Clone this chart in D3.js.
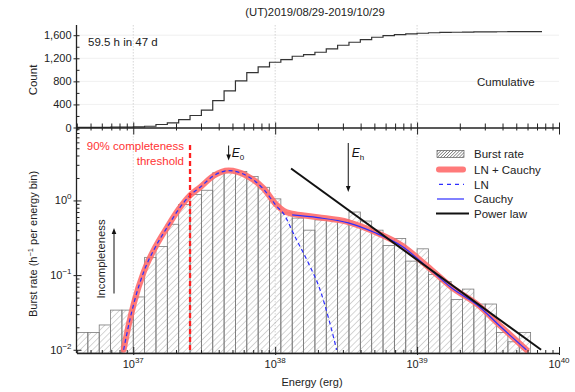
<!DOCTYPE html>
<html>
<head>
<meta charset="utf-8">
<script src="https://cdn.jsdelivr.net/npm/d3@7"></script>
<style>
  body { margin: 0; background: #fff; }
  svg { display: block; }
</style>
</head>
<body>
<svg id="chart" width="575" height="392"></svg>
<script>
// ---------- data ----------
const title = "(UT)2019/08/29-2019/10/29";
const exposureNote = "59.5 h in 47 d";

// histogram bin edges, log10(E / erg)
const binEdgesLogE = [36.60, 36.68, 36.76, 36.84, 36.92, 37.00, 37.08, 37.16, 37.24, 37.32,
  37.40, 37.48, 37.56, 37.64, 37.72, 37.80, 37.88, 37.96, 38.04, 38.12,
  38.20, 38.28, 38.36, 38.44, 38.52, 38.60, 38.68, 38.76, 38.84, 38.92,
  39.00, 39.08, 39.16, 39.24, 39.32, 39.40, 39.48, 39.56, 39.64, 39.72,
  39.80, 39.88];

// burst rate per bin (h^-1)
const burstRate = [0.017, 0.017, 0.0215, 0.034, 0.034, 0.051, 0.173, 0.242, 0.48, 0.88,
  1.2, 1.37, 2.35, 2.5, 2.45, 2.1, 1.5, 1.05, 0.68, 0.58,
  0.40, 0.55, 0.55, 0.55, 0.70, 0.53, 0.40, 0.25, 0.31, 0.154,
  0.225, 0.102, 0.082, 0.047, 0.065, 0.041, 0.041, 0.017, 0.0128, 0.017];

// cumulative count per bin
const cumCount = [1, 2, 3, 5, 7, 10, 22, 52, 80, 138,
  208, 300, 467, 635, 808, 953, 1050, 1131, 1178, 1235,
  1265, 1305, 1363, 1426, 1478, 1525, 1565, 1594, 1611, 1622,
  1634, 1643, 1648, 1651, 1655, 1657, 1659, 1660, 1661, 1662, 1662];

// fitted curves
const lnCauchyLogE = [36.932, 36.97, 37.004, 37.075, 37.157, 37.239, 37.32, 37.40, 37.473, 37.566,
  37.672, 37.80, 37.918, 38.01, 38.06, 38.11, 38.14, 38.30, 38.515, 38.70,
  38.89, 39.077, 39.242, 39.43, 39.593, 39.77];
const lnCauchyRate = [0.010, 0.0224, 0.0417, 0.112, 0.240, 0.437, 0.76, 1.17, 1.51, 2.14,
  2.51, 2.14, 1.45, 0.871, 0.724, 0.668, 0.653, 0.596, 0.513, 0.380,
  0.251, 0.129, 0.0692, 0.0398, 0.0204, 0.010];

const lnLogE = [36.932, 36.97, 37.004, 37.075, 37.157, 37.239, 37.32, 37.40, 37.473, 37.566,
  37.672, 37.80, 37.918, 38.01, 38.06, 38.14, 38.234, 38.317, 38.375, 38.433];
const lnRate = [0.010, 0.0224, 0.0417, 0.112, 0.240, 0.437, 0.76, 1.17, 1.51, 2.14,
  2.51, 2.14, 1.42, 0.84, 0.66, 0.326, 0.145, 0.063, 0.027, 0.010];

const cauchyLogE = [38.12, 38.30, 38.515, 38.70, 38.89, 39.077, 39.242, 39.43, 39.593, 39.77];
const cauchyRate = [0.64, 0.589, 0.501, 0.372, 0.245, 0.126, 0.0676, 0.0389, 0.020, 0.010];

const powerLawLogE = [38.112, 39.874];
const powerLawRate = [2.68, 0.01];

const thresholdLogE = 37.40;
const e0LogE = 37.672;
const ehLogE = 38.515;

const legendItems = ["Burst rate", "LN + Cauchy", "LN", "Cauchy", "Power law"];

// ---------- layout ----------
const FONT = '"Liberation Sans", Arial, Helvetica, sans-serif';
const X0 = 76.5, X1 = 559;
const TOP_Y1 = 25, MID_Y = 127.5, BOT_Y = 353;
const E = v => Math.pow(10, v);
const isDecade = v => Math.abs(Math.log10(v) - Math.round(Math.log10(v))) < 1e-6;

const x = d3.scaleLog().domain([E(binEdgesLogE[0]), 1e40]).range([X0, X1]);
const yTop = d3.scaleLinear().domain([0, 1777]).range([MID_Y, TOP_Y1]);
const yLow = d3.scaleLog().domain([E(-2.043), E(0.977)]).range([BOT_Y, MID_Y]);

const svg = d3.select("#chart").attr("font-family", FONT);

// patterns
const defs = svg.append("defs");
defs.append("pattern").attr("id", "hatch").attr("patternUnits", "userSpaceOnUse")
  .attr("width", 4.4).attr("height", 4.4).attr("patternTransform", "rotate(45)")
  .append("line").attr("x1", 0).attr("y1", 0).attr("x2", 0).attr("y2", 4.4)
  .attr("stroke", "#8a8a8a").attr("stroke-width", 0.7);
defs.append("pattern").attr("id", "hatchDark").attr("patternUnits", "userSpaceOnUse")
  .attr("width", 2.2).attr("height", 2.2).attr("patternTransform", "rotate(45)")
  .append("line").attr("x1", 0).attr("y1", 0).attr("x2", 0).attr("y2", 2.2)
  .attr("stroke", "#222").attr("stroke-width", 0.9);

// ---------- grid ----------
const grid = svg.append("g");
[400, 800, 1200, 1600].forEach(v => {
  grid.append("line").attr("x1", X0).attr("x2", X1).attr("y1", yTop(v)).attr("y2", yTop(v))
    .attr("stroke", "#ececec").attr("stroke-width", 0.8);
});
[1e37, 1e38, 1e39].forEach(v => {
  grid.append("line").attr("x1", x(v)).attr("x2", x(v)).attr("y1", TOP_Y1).attr("y2", BOT_Y)
    .attr("stroke", "#c4c4c4").attr("stroke-width", 0.7).attr("stroke-dasharray", "1.5,1.5");
});

// ---------- top panel: cumulative ----------
const cumPts = cumCount.map((c, i) => [binEdgesLogE[i], c]);
cumPts.push([binEdgesLogE[cumCount.length], cumCount[cumCount.length - 1]]);
svg.append("path")
  .attr("d", d3.line().x(d => x(E(d[0]))).y(d => yTop(d[1])).curve(d3.curveStepAfter)(cumPts))
  .attr("fill", "none").attr("stroke", "#333").attr("stroke-width", 1.2);

// ---------- bottom panel: histogram ----------
svg.append("g").selectAll("rect").data(burstRate).join("rect")
  .attr("x", (d, i) => x(E(binEdgesLogE[i])))
  .attr("width", (d, i) => x(E(binEdgesLogE[i + 1])) - x(E(binEdgesLogE[i])))
  .attr("y", d => yLow(d))
  .attr("height", d => BOT_Y - yLow(d))
  .attr("fill", "url(#hatch)")
  .attr("stroke", "#7a7a7a").attr("stroke-width", 0.8);

function curvePath(logEs, rates) {
  return d3.line().x(d => x(E(d))).y((d, i) => yLow(rates[i])).curve(d3.curveMonotoneX)(logEs);
}

svg.append("path").attr("d", curvePath(lnCauchyLogE, lnCauchyRate))
  .attr("fill", "none").attr("stroke", "#ff6b6b").attr("stroke-opacity", 0.9)
  .attr("stroke-width", 6).attr("stroke-linecap", "round").attr("stroke-linejoin", "round");
svg.append("path").attr("d", curvePath(lnLogE, lnRate))
  .attr("fill", "none").attr("stroke", "#2d2dff").attr("stroke-width", 1.2)
  .attr("stroke-dasharray", "4,3");
svg.append("path").attr("d", curvePath(cauchyLogE, cauchyRate))
  .attr("fill", "none").attr("stroke", "#2d2dff").attr("stroke-width", 1.2);
svg.append("path").attr("d", curvePath(powerLawLogE, powerLawRate))
  .attr("fill", "none").attr("stroke", "#111").attr("stroke-width", 2);

// completeness threshold
svg.append("line")
  .attr("x1", x(E(thresholdLogE))).attr("x2", x(E(thresholdLogE)))
  .attr("y1", 145).attr("y2", BOT_Y)
  .attr("stroke", "#ff2020").attr("stroke-width", 2.3).attr("stroke-dasharray", "5,3");

// ---------- axes ----------
const xTicks = x.ticks();

const gMid = svg.append("g").attr("transform", `translate(0,${MID_Y})`)
  .call(d3.axisBottom(x).tickValues(xTicks).tickFormat("").tickSizeOuter(0));
gMid.selectAll(".tick line").attr("y1", d => isDecade(d) ? -5 : -4).attr("y2", d => isDecade(d) ? 7 : 3);

const gBot = svg.append("g").attr("transform", `translate(0,${BOT_Y})`)
  .call(d3.axisBottom(x).tickValues(xTicks).tickFormat("").tickSizeOuter(0));
gBot.selectAll(".tick line").attr("y1", d => isDecade(d) ? -6 : -3).attr("y2", d => isDecade(d) ? 2 : 0);

[gMid, gBot].forEach(g => {
  g.select(".domain").attr("stroke", "#222").attr("stroke-width", 1.3);
  g.selectAll(".tick line").attr("stroke", "#222").attr("stroke-width", 1);
});

// decade labels on energy axis
xTicks.filter(isDecade).forEach(v => {
  const t = svg.append("text").attr("x", x(v)).attr("y", 368)
    .attr("text-anchor", "middle").attr("font-size", 11).attr("fill", "#222");
  t.append("tspan").text("10");
  t.append("tspan").attr("dy", -5).attr("font-size", 8).text(Math.round(Math.log10(v)));
});

// count axis
const gTL = svg.append("g").attr("transform", `translate(${X0},0)`)
  .call(d3.axisLeft(yTop).tickValues(d3.range(0, 1601, 200))
    .tickFormat(d => d % 400 === 0 ? d3.format(",")(d) : "").tickSizeOuter(0));
gTL.select(".domain").remove();
gTL.selectAll(".tick line").attr("x1", d => d % 400 === 0 ? -3 : 0).attr("x2", 3)
  .attr("stroke", "#222");
gTL.selectAll(".tick text").attr("x", -5).attr("font-size", 11).attr("font-family", FONT).attr("fill", "#222");

// rate axis
const yTicks = yLow.ticks();
const gBL = svg.append("g").attr("transform", `translate(${X0},0)`)
  .call(d3.axisLeft(yLow).tickValues(yTicks).tickFormat("").tickSizeOuter(0));
gBL.select(".domain").remove();
gBL.selectAll(".tick line").attr("x1", d => isDecade(d) ? -3 : 0).attr("x2", d => isDecade(d) ? 5 : 3)
  .attr("stroke", "#222");
yTicks.filter(isDecade).forEach(v => {
  const p = Math.round(Math.log10(v));
  const t = svg.append("text").attr("x", X0 - 5).attr("y", yLow(v) + 4)
    .attr("text-anchor", "end").attr("font-size", 11).attr("fill", "#222");
  t.append("tspan").text("10");
  t.append("tspan").attr("dy", -5).attr("font-size", 8).text(p < 0 ? "\u2212" + (-p) : p);
});

svg.append("line").attr("x1", X0).attr("x2", X0).attr("y1", TOP_Y1).attr("y2", BOT_Y)
  .attr("stroke", "#222").attr("stroke-width", 1.3);

// ---------- text ----------
svg.append("text").attr("x", 315).attr("y", 16).attr("text-anchor", "middle")
  .attr("font-size", 11.3).attr("fill", "#222").text(title);
svg.append("text").attr("x", 88).attr("y", 45.5).attr("font-size", 11.5).attr("fill", "#222").text(exposureNote);
svg.append("text").attr("x", 477).attr("y", 86).attr("font-size", 11.5).attr("fill", "#222").text("Cumulative");

svg.append("text").attr("transform", "translate(36.5,80) rotate(-90)").attr("text-anchor", "middle")
  .attr("font-size", 11.5).attr("fill", "#222").text("Count");

const yl = svg.append("text").attr("transform", "translate(36.5,244) rotate(-90)").attr("text-anchor", "middle")
  .attr("font-size", 11).attr("fill", "#222");
yl.append("tspan").text("Burst rate (h");
yl.append("tspan").attr("dy", -4).attr("font-size", 7.5).text("\u22121");
yl.append("tspan").attr("dy", 4).text(" per energy bin)");

svg.append("text").attr("x", 52).attr("y", 378).attr("x", 312).attr("y", 386)
  .attr("text-anchor", "middle").attr("font-size", 11).attr("fill", "#222").text("Energy (erg)");

// threshold label
svg.append("text").attr("x", 184).attr("y", 149.5).attr("text-anchor", "end")
  .attr("font-size", 11.5).attr("fill", "#ff3333").text("90% completeness");
svg.append("text").attr("x", 184).attr("y", 164.5).attr("text-anchor", "end")
  .attr("font-size", 11.5).attr("fill", "#ff3333").text("threshold");

// arrows
function arrow(xp, yFrom, yTo) {
  const dir = yTo > yFrom ? 1 : -1;
  svg.append("line").attr("x1", xp).attr("x2", xp).attr("y1", yFrom).attr("y2", yTo - dir * 5)
    .attr("stroke", "#111").attr("stroke-width", 1);
  svg.append("path")
    .attr("d", `M${xp - 2.3},${yTo - dir * 6}L${xp},${yTo}L${xp + 2.3},${yTo - dir * 6}Z`)
    .attr("fill", "#111");
}
arrow(x(E(e0LogE)), 145.5, 160.5);
arrow(x(E(ehLogE)), 143, 192);
arrow(114, 293.5, 228);

function subLabel(xp, yp, sub) {
  const t = svg.append("text").attr("x", xp).attr("y", yp).attr("font-size", 12).attr("fill", "#111");
  t.append("tspan").attr("font-style", "italic").text("E");
  t.append("tspan").attr("dy", 3).attr("font-size", 8).text(sub);
}
subLabel(x(E(e0LogE)) + 3, 156.5, "0");
subLabel(x(E(ehLogE)) + 3.5, 156.5, "h");

svg.append("text").attr("transform", "translate(104.5,259) rotate(-90)").attr("text-anchor", "middle")
  .attr("font-size", 11.3).attr("fill", "#222").text("Incompleteness");

// ---------- legend ----------
const lg = svg.append("g");
const LX = 437, LW = 27, rowY = [154, 169.5, 184.3, 199, 213.5];
lg.append("rect").attr("x", LX).attr("y", rowY[0] - 3.5).attr("width", LW).attr("height", 7)
  .attr("fill", "url(#hatchDark)").attr("stroke", "#444").attr("stroke-width", 0.6);
lg.append("line").attr("x1", LX + 2).attr("x2", LX + LW - 1).attr("y1", rowY[1]).attr("y2", rowY[1])
  .attr("stroke", "#ff6b6b").attr("stroke-opacity", 0.9).attr("stroke-width", 6).attr("stroke-linecap", "round");
lg.append("line").attr("x1", LX + 2).attr("x2", LX + LW).attr("y1", rowY[2]).attr("y2", rowY[2])
  .attr("stroke", "#2d2dff").attr("stroke-width", 1.2).attr("stroke-dasharray", "4,4");
lg.append("line").attr("x1", LX).attr("x2", LX + LW).attr("y1", rowY[3]).attr("y2", rowY[3])
  .attr("stroke", "#2d2dff").attr("stroke-width", 1.2);
lg.append("line").attr("x1", LX - 1).attr("x2", LX + LW + 5).attr("y1", rowY[4]).attr("y2", rowY[4])
  .attr("stroke", "#111").attr("stroke-width", 2);
legendItems.forEach((s, i) => {
  lg.append("text").attr("x", 474).attr("y", rowY[i] + 4.2).attr("font-size", 11.5)
    .attr("fill", "#222").text(s);
});
</script>
</body>
</html>
